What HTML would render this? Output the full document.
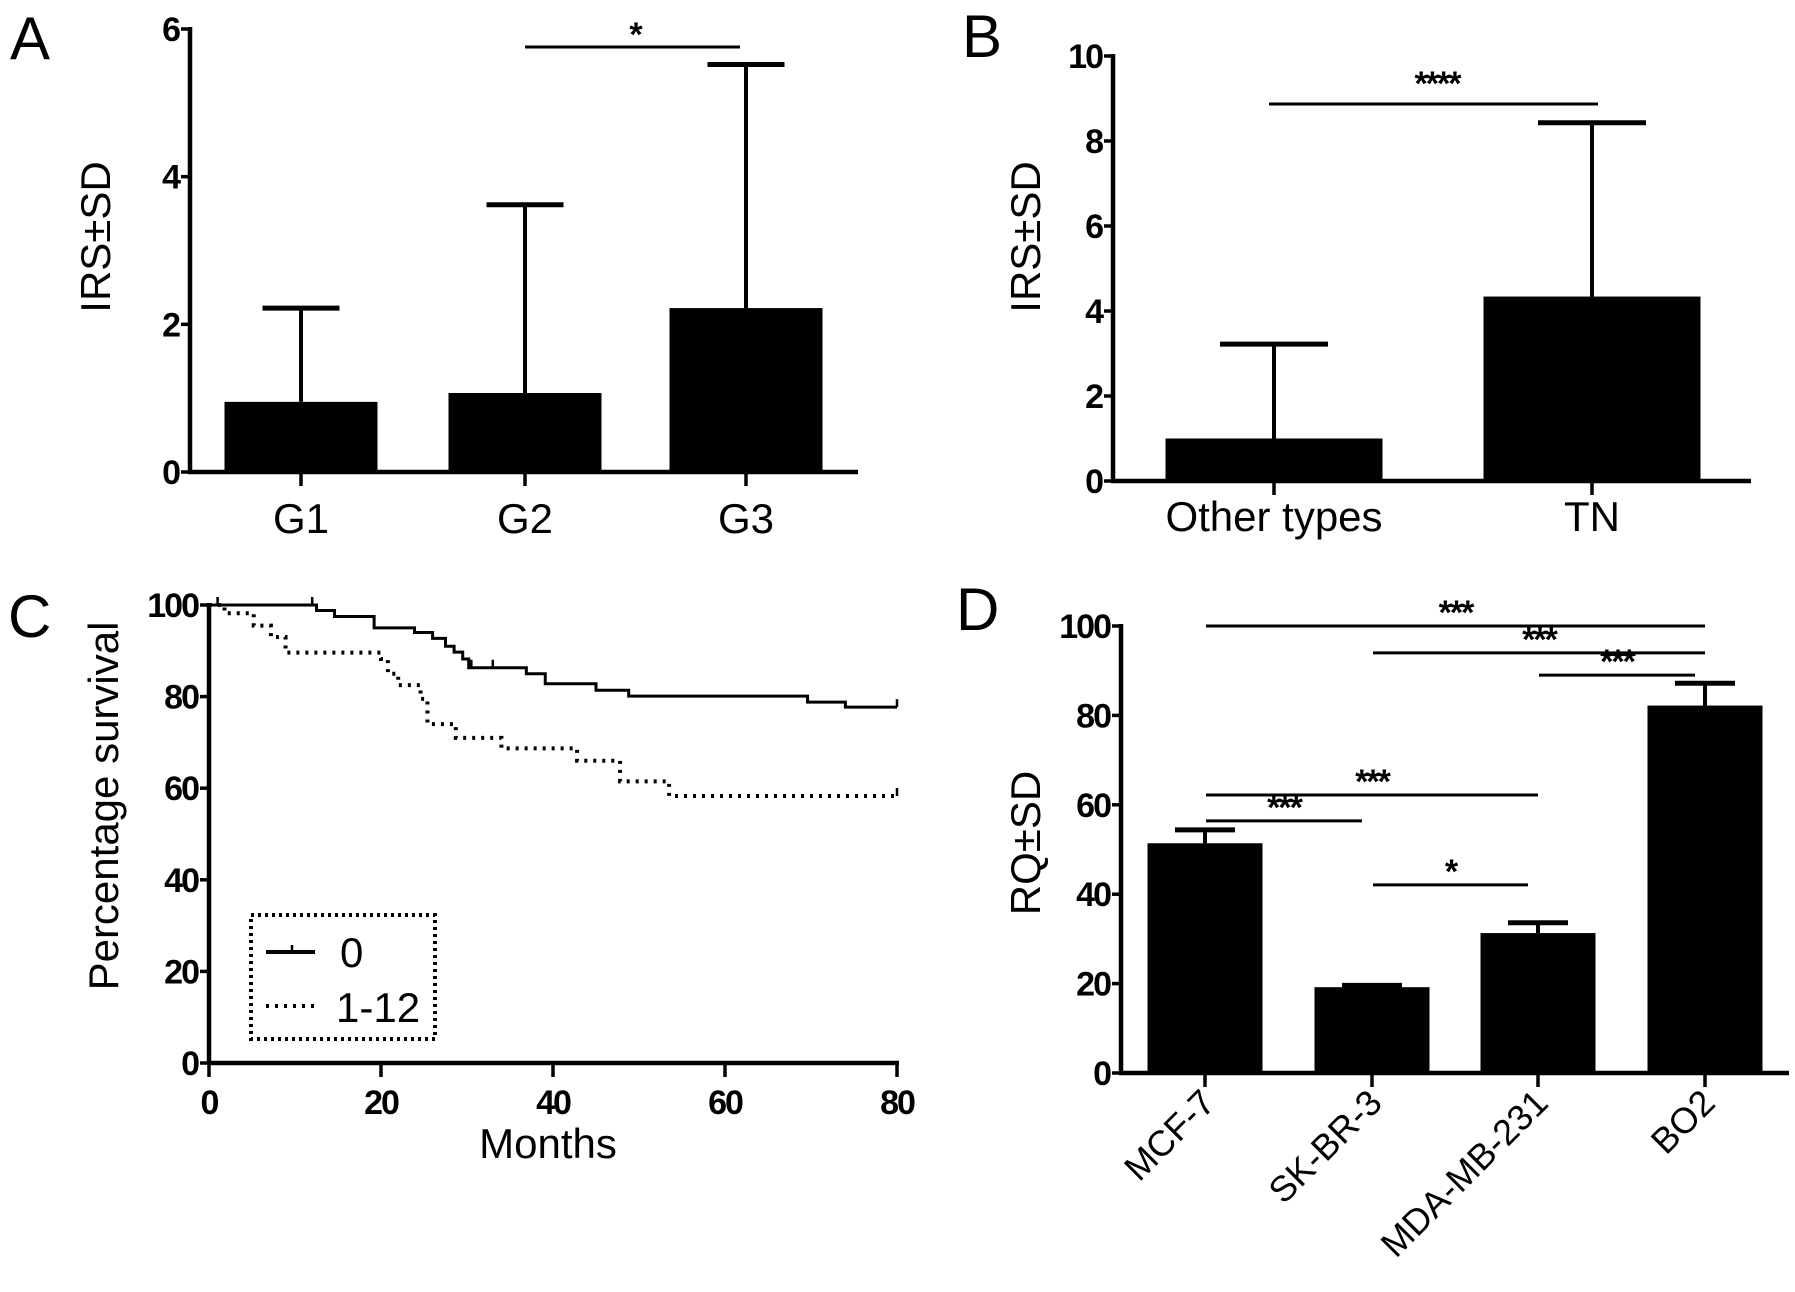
<!DOCTYPE html>
<html><head><meta charset="utf-8"><style>
body{margin:0;background:#fff}
svg{display:block}
text{font-family:"Liberation Sans",sans-serif;fill:#000}
.tick{font-weight:bold;font-size:34px;letter-spacing:-2px}
.cat{font-size:42px}
.ttl{font-size:42px}
.pl{font-size:60px}
</style></head><body>
<svg id="fig" width="1795" height="1292" viewBox="0 0 1795 1292">
<text class="pl" x="10" y="59">A</text>
<text class="pl" x="962" y="57">B</text>
<text class="pl" x="8" y="637">C</text>
<text class="pl" x="956" y="630">D</text>
<text class="ttl" transform="translate(110,237) rotate(-90)" text-anchor="middle">IRS±SD</text>
<text class="ttl" transform="translate(1040,237) rotate(-90)" text-anchor="middle">IRS±SD</text>
<text class="ttl" transform="translate(118,806) rotate(-90)" text-anchor="middle">Percentage survival</text>
<text class="ttl" transform="translate(1040,843) rotate(-90)" text-anchor="middle">RQ±SD</text>
<text class="ttl" x="548" y="1158" text-anchor="middle">Months</text>
<g id="gA"></g>
<g id="gB"></g>
<g id="gC"></g>
<g id="gD"></g>
</svg>
<script>
const aCategories=["G1","G2","G3"];
const aMeans=[0.95,1.07,2.22];
const aSD=[1.27,2.55,3.30];
const aTicks=[0,2,4,6];
const bCategories=["Other types","TN"];
const bMeans=[1.0,4.34];
const bSD=[2.22,4.09];
const bTicks=[0,2,4,6,8,10];
const cSolidSteps=[[0,100],[12.5,98.8],[14.6,97.5],[19.2,95],[23.9,94],[26,92.7],[27.5,91],[28.5,89.7],[29.5,88.2],[30.2,86.3],[36.9,85],[39.1,82.8],[45,81.4],[48.8,80.1],[69.6,78.8],[74,77.7],[80,77.7]];
const cDottedSteps=[[0,100],[1.8,98.2],[5.2,95.5],[7.2,93],[8.9,89.6],[20,88.2],[20.8,85],[22,82.5],[24.6,79.5],[25.4,74],[28.7,71],[34,68.7],[42.8,66],[47.8,61.5],[53.5,58.3],[80,58.3]];
const cCensorSolid=[12,30.5,33,80];
const cCensorDotted=[1,80];
const cTicksY=[0,20,40,60,80,100];
const cTicksX=[0,20,40,60,80];
const dCategories=["MCF-7","SK-BR-3","MDA-MB-231","BO2"];
const dMeans=[51.4,19.2,31.3,82.2];
const dSD=[3.0,0.4,2.3,5.0];
const dTicks=[0,20,40,60,80,100];
const dSig=[[0,3,"***"],[1,3,"***"],[2,3,"***"],[0,2,"***"],[0,1,"***"],[1,2,"*"]];
const dSigY=[100,94,89,62.2,56.4,42.1];

const NS="http://www.w3.org/2000/svg";
function mk(p,t,at){const e=document.createElementNS(NS,t);for(const k in at)e.setAttribute(k,at[k]);p.appendChild(e);return e;}
function line(p,x1,y1,x2,y2,w,name,dash){const e=mk(p,'line',{x1,y1,x2,y2,stroke:'#000','stroke-width':w});if(dash)e.setAttribute('stroke-dasharray',dash);

return e;}
function txt(p,x,y,s,cls,anchor,name){const e=mk(p,'text',{x,y,'text-anchor':anchor||'middle'});e.setAttribute('class',cls);e.textContent=s;

return e;}

function barChart(g,cfg){
 const {x0,xEnd,y0,yTop,vmax,ticks,centers,barW,capW,means,sd,cats,prefix}=cfg;
 const Y=v=>y0-(v/vmax)*(y0-yTop);
 line(g,x0,Y(vmax)-2,x0,y0+2,4.5,prefix+'-y-axis');
 line(g,x0-2,y0,xEnd,y0,4.5,prefix+'-x-axis');
 ticks.forEach(t=>{line(g,x0-9,Y(t),x0,Y(t),3.5,prefix+'-y-tick');txt(g,x0-11,Y(t)+12,String(t),'tick','end',prefix+'-y-tick-label');});
 means.forEach((m,i)=>{
  const cx=centers[i];
  const top=Y(m+sd[i]);
  line(g,cx,Y(m),cx,top,4,prefix+'-error-bar');
  line(g,cx-capW/2,top,cx+capW/2,top,5,prefix+'-error-cap');
  const r=mk(g,'rect',{x:cx-barW/2,y:Y(m),width:barW,height:y0-Y(m),fill:'#000'});
  
  
  line(g,cx,y0,cx,y0+14,3.5,prefix+'-x-tick');
 });
 return Y;
}
// Panel A
(function(){const g=document.getElementById('gA');
 const centers=[301,525,746];
 barChart(g,{x0:190,xEnd:858,y0:472,yTop:29,vmax:6,ticks:aTicks,centers,barW:153,capW:77,means:aMeans,sd:aSD,cats:aCategories,prefix:'panel-a'});
 aCategories.forEach((c,i)=>txt(g,centers[i],533,c,'cat','middle','panel-a-x-label'));
 line(g,525,47,740,47,3,'panel-a-significance-line');
 txt(g,635,46,'*','tick','middle','panel-a-significance-stars');
})();
// Panel B
(function(){const g=document.getElementById('gB');
 const centers=[1274,1592];
 barChart(g,{x0:1113,xEnd:1751,y0:481,yTop:56,vmax:10,ticks:bTicks,centers,barW:217,capW:108,means:bMeans,sd:bSD,cats:bCategories,prefix:'panel-b'});
 bCategories.forEach((c,i)=>txt(g,centers[i],531,c,'cat','middle','panel-b-x-label'));
 line(g,1269,104,1598,104,3,'panel-b-significance-line');
 txt(g,1437,95,'****','tick','middle','panel-b-significance-stars');
})();
// Panel C
(function(){const g=document.getElementById('gC');
 const x0=209,y0=1063,yT=605,xE=897;
 const X=m=>x0+m/80*(xE-x0), Y=v=>y0-v/100*(y0-yT);
 line(g,x0,yT-2,x0,y0+2,4.5,'panel-c-y-axis');
 line(g,x0-2,y0,xE+2,y0,4.5,'panel-c-x-axis');
 cTicksY.forEach(t=>{line(g,x0-9,Y(t),x0,Y(t),3.5,'panel-c-y-tick');txt(g,x0-11,Y(t)+12,String(t),'tick','end','panel-c-y-tick-label');});
 cTicksX.forEach(t=>{line(g,X(t),y0,X(t),y0+14,3.5,'panel-c-x-tick');txt(g,X(t),1114,String(t),'tick','middle','panel-c-x-tick-label');});
 function path(steps,dash,name){let d='M'+X(steps[0][0])+' '+Y(steps[0][1]);
  for(let i=1;i<steps.length;i++){d+=' H'+X(steps[i][0])+' V'+Y(steps[i][1]);}
  const p=mk(g,'path',{d,fill:'none',stroke:'#000','stroke-width':dash?4:3});
  if(dash)p.setAttribute('stroke-dasharray',dash);
  
  }
 path(cSolidSteps,null,'survival-curve-0');
 path(cDottedSteps,'3 6','survival-curve-1-12');
 function valAt(steps,m){let v=steps[0][1];for(const s of steps){if(s[0]<=m)v=s[1];}return v;}
 cCensorSolid.forEach(m=>line(g,X(m),Y(valAt(cSolidSteps,m))-8,X(m),Y(valAt(cSolidSteps,m)),2.5,'censor-mark-0'));
 cCensorDotted.forEach(m=>line(g,X(m),Y(valAt(cDottedSteps,m))-8,X(m),Y(valAt(cDottedSteps,m)),2.5,'censor-mark-1-12'));
 const box=mk(g,'rect',{x:251,y:915,width:184,height:124,fill:'none',stroke:'#000','stroke-width':4,'stroke-dasharray':'3 4'});
 
 
 line(g,266,952,315,952,4,'legend-line-0');
 line(g,292,945,292,952,2.5,'legend-censor-0');
 txt(g,340,967,'0','cat','start','legend-label-0');
 line(g,266,1006,315,1006,4,'legend-line-1-12','3 6');
 txt(g,336,1022,'1-12','cat','start','legend-label-1-12');
})();
// Panel D
(function(){const g=document.getElementById('gD');
 const centers=[1205,1372,1538,1705];
 const Y=barChart(g,{x0:1121,xEnd:1789,y0:1073,yTop:626,vmax:100,ticks:dTicks,centers,barW:115,capW:60,means:dMeans,sd:dSD,cats:dCategories,prefix:'panel-d'});
 dCategories.forEach((c,i)=>{const e=txt(g,0,0,c,'cat','end','panel-d-x-label');e.setAttribute('transform','translate('+(centers[i]+12)+',1105) rotate(-45)');e.style.fontSize='36px';});
 dSig.forEach((s,i)=>{const x1=centers[s[0]]+1,x2=centers[s[1]]-(s[1]-s[0]===1?10:0);const y=Y(dSigY[i]);
  line(g,x1,y,x2,y,3,'panel-d-significance-line');
  txt(g,(x1+x2)/2,y-2,s[2],'tick','middle','panel-d-significance-stars');});
})();
</script>
</body></html>
